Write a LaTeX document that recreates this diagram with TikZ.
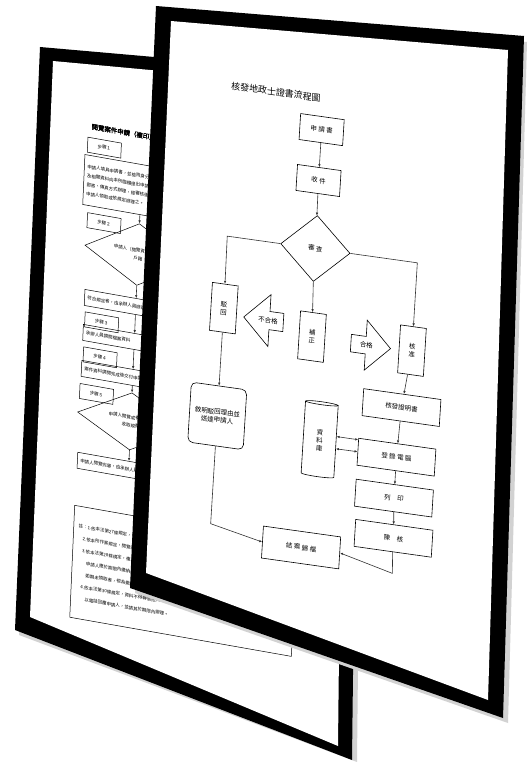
\documentclass[tikz,border=0pt]{standalone}
\usepackage{fontspec}
\newfontfamily\cjk{Noto Sans CJK TC}
\newfontfamily\cjkb[FakeBold=2]{Noto Sans CJK TC}
\usetikzlibrary{shapes.geometric,shapes.arrows,arrows.meta}
\tikzset{
  link/.style={->,line width=0.6pt,black!80},
  box/.style={draw,line width=0.6pt,minimum width=44pt,minimum height=26pt,inner sep=1pt,font=\cjk\fontsize{6.5}{8}\selectfont},
  wbox/.style={box,minimum width=78pt,minimum height=27pt},
  vbox/.style={box,minimum width=26pt,minimum height=48pt,align=center},
  rbox/.style={box,rounded corners=5pt,minimum width=56pt,minimum height=60pt,align=center},
  check/.style={box,diamond,minimum width=70pt,minimum height=66pt,inner sep=0pt},
  db/.style={box,cylinder,shape border rotate=90,aspect=0.35,minimum width=33pt,minimum height=75pt,align=center},
  leftarr/.style={box,single arrow,shape border rotate=180,minimum width=52pt,minimum height=40pt,single arrow head extend=8pt},
  rightarr/.style={box,single arrow,minimum width=50pt,minimum height=40pt,single arrow head extend=8pt},
  tab/.style={draw,line width=0.5pt,anchor=north west,minimum width=34pt,minimum height=15pt,inner sep=1pt,font=\cjk\fontsize{4.5}{5.5}\selectfont},
  sbox/.style={draw,line width=0.5pt,minimum width=104pt,minimum height=16pt,inner sep=1.5pt,text width=98pt,align=left,font=\cjk\fontsize{4.5}{6}\selectfont},
  sdia/.style={draw,line width=0.5pt,diamond,minimum width=108pt,minimum height=48pt,inner sep=0pt,align=center,font=\cjk\fontsize{4.5}{6}\selectfont}
}
\begin{document}
\begin{tikzpicture}[x=1pt,y=-1pt,>={Latex[length=3pt,width=2.5pt]}]
\useasboundingbox (0,0) rectangle (527,762);
\fill[white] (0,0) rectangle (527,762);
% back sheet
\fill[gray!35] (44,52) -- (364,80) -- (357,762) -- (19,635) -- cycle;
\fill[black] (40,47) -- (360,75) -- (352,760) -- (15,630) -- cycle;
\fill[white] (53,61) -- (345,88) -- (338,746) -- (30,617) -- cycle;
\begin{scope}[cm={0.985,-0.174,0.044,0.999,(100pt,-128pt)},transform shape]
  \node[anchor=west,font=\cjkb\fontsize{6.5}{7}\selectfont] (btitle) at (-12,0) {閱覽案件申請（複印）作業流程};
  \node[tab] (tab1) at (-12,11) {步驟１};
  \node[sbox,minimum width=116pt,minimum height=50pt,text width=110pt,font=\cjk\fontsize{4.5}{9}\selectfont] (s1) at (44,54)
    {申請人填具申請書，並檢附身分證明文件\\及相關資料向本所臨櫃提出申請或以\\郵寄、傳真方式辦理，經審核後通知\\申請人領取或依規定辦理之。};
  \node[tab] (tab2) at (-9,86) {步驟２};
  \node[sdia,font=\cjk\fontsize{4.5}{8}\selectfont] (q1) at (44,119) {申請人（閱覽資格審核）\\戶籍};
  \node[sbox] (s2) at (44,171) {符合規定者，由承辦人員辦理調閱};
  \node[tab] (tab3) at (-7,185) {步驟３};
  \node[sbox] (s3) at (44,206) {承辦人員調閱檔案資料};
  \node[tab] (tab4) at (-7,220) {步驟４};
  \node[sbox] (s4) at (44,242) {案件資料調閱完成後交付申請人};
  \node[tab] (tab5) at (-9,257) {步驟５};
  \node[sdia,font=\cjk\fontsize{4.5}{8}\selectfont] (q2) at (44,286) {申請人閱覽或複印資料\\收取規費};
  \node[sbox] (s5) at (44,334) {申請人閱覽完畢，由承辦人員歸檔};
  \node[sbox,anchor=north west,minimum width=225pt,minimum height=112pt,text width=215pt,font=\cjk\fontsize{4.5}{12}\selectfont] (note) at (-9,379)
    {註：1.依本法第27條規定，申請人應親自到場辦理。\\
    \quad 2.依本所作業規定，閱覽時間以一小時為限。\\
    \quad 3.依本法第28條規定，複印資料應收取規費。\\
    \quad\quad 申請人應於期限內繳納規費並領取資料。\\
    \quad\quad 逾期未領取者，視為撤回申請。\\
    \quad 4.依本法第30條規定，資料不得轉借他人。\\
    \quad\quad 以電話回覆申請人，並請其於期限內辦理。};
  \draw[link] (s1) -- (q1);
  \draw[link] (q1) -- (s2);
  \draw[link] (s2) -- (s3);
  \draw[link] (s3) -- (s4);
  \draw[link] (s4) -- (q2);
  \draw[link] (q2) -- (s5);
\end{scope}
% front sheet
\fill[gray!35] (161,11) -- (527,42) -- (508,723) -- (135,593) -- cycle;
\fill[black] (156,6) -- (524,36) -- (503,718) -- (130,588) -- cycle;
\fill[white] (171,21) -- (508,50) -- (488,700) -- (146,573) -- cycle;
\begin{scope}[cm={0.990,-0.139,0.061,0.998,(276pt,-92pt)},transform shape]
  \node[font=\cjk\fontsize{9}{10}\selectfont] (title) at (0,0) {核發地政士證書流程圖};
  \node[box] (apply) at (48,31) {申 請 書};
  \node[box] (recv) at (48,82) {收 件};
  \node[check] (review) at (49,150) {審 查};
  \node[vbox] (reject) at (-39,222) {駁\\回};
  \node[leftarr] (fail) at (6,228) {不合格};
  \node[vbox] (amend) at (51,238) {補\\正};
  \node[rightarr] (pass) at (106,239) {合格};
  \node[vbox] (grant) at (152,238) {核\\准};
  \node[wbox] (issue) at (145,296) {核發證明書};
  \node[wbox] (key) at (143,346) {登 錄 電 腦};
  \node[db] (data) at (65,340) {資\\料\\庫};
  \node[wbox] (print) at (143,387) {列　印};
  \node[wbox] (sign) at (145,427) {陳　核};
  \node[rbox] (notice) at (-39,330) {敘明駁回理由並\\送達申請人};
  \node[wbox,minimum height=32pt] (close) at (53,449) {結 案 歸 檔};
  \coordinate (lturn) at (-40,150);
  \coordinate (rturn) at (152,150);
  \coordinate (lbot) at (-39,438);
  \coordinate (rbot) at (146,462);
  \draw[link] (apply) -- (recv);
  \draw[link] (recv) -- (review);
  \draw[link] (review.west) -- (lturn) -- (reject);
  \draw[link] (review.south) -- (amend);
  \draw[link] (review.east) -- (rturn) -- (grant);
  \draw[link] (grant) -- (issue);
  \draw[link] (issue) -- (key);
  \draw[link] (key) -- (print);
  \draw[link] (print) -- (sign);
  \draw[link,<->] (data.20) -- (key.163);
  \draw[link,<->] (data.-20) -- (key.west);
  \draw[link] (reject) -- (notice);
  \draw[link] (notice.south) -- (lbot) -- (close.west);
  \draw[link] (sign.south) -- (rbot) -- (close.east);
\end{scope}
\end{tikzpicture}
\end{document}
